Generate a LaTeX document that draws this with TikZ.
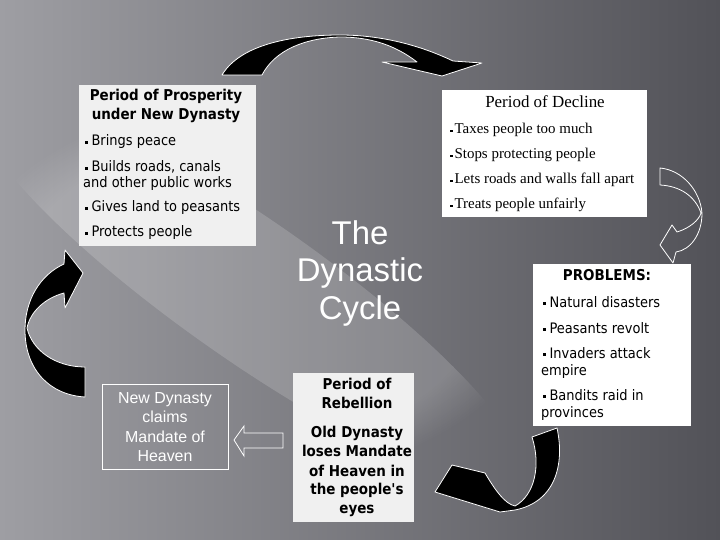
\documentclass[tikz,border=0pt]{standalone}
\usepackage{fontspec}
\setmainfont{Liberation Serif}
\newfontfamily\tahoma{DejaVu Sans Condensed}
\newfontfamily\arial{Liberation Sans}
\usetikzlibrary{fadings}

\definecolor{bgleft}{RGB}{158,158,163}
\definecolor{bgright}{RGB}{82,82,88}
\definecolor{panelgray}{RGB}{240,240,240}

\newcommand{\sqb}{\rule[0.28ex]{2.4pt}{2.4pt}\hspace{4pt}}
\newcommand{\tsqb}{\rule[0.3ex]{2.4pt}{2.4pt}\hspace{2pt}}

\tikzset{
    panel/.style = {fill = white, inner sep = 0, anchor = north west},
    tah/.style = {font = \tahoma\fontsize{14.5}{17}\selectfont, inner sep = 0},
    tahbold/.style = {font = \tahoma\bfseries\fontsize{15}{17}\selectfont, inner sep = 0},
    tms/.style = {font = \fontsize{15}{17}\selectfont, inner sep = 0},
    bigarrow/.style = {fill = black, draw = white, line width = .8pt, line join = round}
}

\begin{document}
\begin{tikzpicture}[
        x = 1bp,
        y = -1bp
    ]
        \useasboundingbox (0,0) rectangle (720,540);
        % background
        \shade[left color = bgleft, right color = bgright] (0,0) rectangle (720,540);
        \fill[white, opacity = .16, path fading = circle with fuzzy edge 20 percent] (250,290) ellipse [x radius = 330, y radius = 70, rotate = -35];

        % curved arrows
        \draw[bigarrow] (222,75) .. controls (240,45) and (290,35) .. (340,35)
            .. controls (390,35) and (430,50) .. (453,61) -- (482,63) -- (442,76) -- (382,62) -- (417,62)
            .. controls (395,45) and (370,37) .. (340,37)
            .. controls (305,38) and (275,50) .. (262,75) -- cycle;
        \draw[white, line width = .8pt, line join = round] (660,168) .. controls (682,170) and (700,190) .. (702,213)
            .. controls (702,235) and (690,250) .. (676,252) -- (673,263) -- (660,245) -- (672,225) -- (677,232)
            .. controls (690,228) and (699,220) .. (701,213)
            .. controls (695,196) and (680,186) .. (660,185) -- cycle;
        \draw[bigarrow] (532,437) -- (557,428) .. controls (565,465) and (555,502) .. (515,510)
            -- (500,512) -- (435,492) -- (452,465) -- (485,473)
            .. controls (495,490) and (505,504) .. (515,506)
            .. controls (535,495) and (541,465) .. (532,437) -- cycle;
        \draw[bigarrow] (85,367) -- (85,397) .. controls (50,395) and (25,370) .. (25,330)
            .. controls (25,300) and (40,275) .. (64,264) -- (65,250) -- (83,273) -- (65,308) -- (64,293)
            .. controls (45,298) and (30,312) .. (27,328)
            .. controls (32,350) and (55,367) .. (85,367) -- cycle;

        % prosperity
        \node[panel, fill = panelgray, minimum width = 177bp, minimum height = 161bp] (prosper) at (79,85) {};
        \node[tahbold, anchor = base] (prosperA) at (166,101) {Period of Prosperity};
        \node[tahbold, anchor = base] (prosperB) at (166,120) {under New Dynasty};
        \node[tah, anchor = base west] (peace) at (85,146) {\sqb Brings peace};
        \node[tah, anchor = base west] (roadsA) at (85,172) {\sqb Builds roads, canals};
        \node[tah, anchor = base west] (roadsB) at (83,188) {and other public works};
        \node[tah, anchor = base west] (land) at (85,212) {\sqb Gives land to peasants};
        \node[tah, anchor = base west] (protect) at (85,237) {\sqb Protects people};

        % decline
        \node[panel, minimum width = 205bp, minimum height = 127bp] (decline) at (442,90) {};
        \node[tms, font = \fontsize{17}{19}\selectfont, anchor = base] (declineT) at (545,108) {Period of Decline};
        \node[tms, anchor = base west] (taxes) at (450,134) {\tsqb Taxes people too much};
        \node[tms, anchor = base west] (stops) at (450,159) {\tsqb Stops protecting people};
        \node[tms, anchor = base west] (walls) at (450,184) {\tsqb Lets roads and walls fall apart};
        \node[tms, anchor = base west] (unfair) at (450,209) {\tsqb Treats people unfairly};

        % problems
        \node[panel, minimum width = 158bp, minimum height = 162bp] (problems) at (533,264) {};
        \node[tahbold, anchor = base] (problemsT) at (607,281) {PROBLEMS:};
        \node[tah, anchor = base west] (natural) at (543,307) {\sqb Natural disasters};
        \node[tah, anchor = base west] (revolt) at (543,333) {\sqb Peasants revolt};
        \node[tah, anchor = base west] (invadeA) at (543,358) {\sqb Invaders attack};
        \node[tah, anchor = base west] (invadeB) at (541,375) {empire};
        \node[tah, anchor = base west] (banditA) at (543,400) {\sqb Bandits raid in};
        \node[tah, anchor = base west] (banditB) at (541,417) {provinces};

        % rebellion
        \node[panel, fill = panelgray, minimum width = 121bp, minimum height = 149bp] (rebel) at (293,373) {};
        \node[tahbold, anchor = base] (rebelA) at (357,389) {Period of};
        \node[tahbold, anchor = base] (rebelB) at (357,408) {Rebellion};
        \node[tahbold, anchor = base] (loseA) at (357,437) {Old Dynasty};
        \node[tahbold, anchor = base] (loseB) at (357,456) {loses Mandate};
        \node[tahbold, anchor = base] (loseC) at (357,476) {of Heaven in};
        \node[tahbold, anchor = base] (loseD) at (357,494) {the people's};
        \node[tahbold, anchor = base] (loseE) at (357,513) {eyes};

        % new dynasty
        \node[panel, fill = none, draw = white, line width = .8pt, minimum width = 126bp, minimum height = 85bp] (newdyn) at (102,384) {};
        \node[white, font = \arial\fontsize{16}{18}\selectfont, inner sep = 0, anchor = base] (newA) at (165,403) {New Dynasty};
        \node[white, font = \arial\fontsize{16}{18}\selectfont, inner sep = 0, anchor = base] (newB) at (165,422) {claims};
        \node[white, font = \arial\fontsize{16}{18}\selectfont, inner sep = 0, anchor = base] (newC) at (165,442) {Mandate of};
        \node[white, font = \arial\fontsize{16}{18}\selectfont, inner sep = 0, anchor = base] (newD) at (165,461) {Heaven};

        \draw[white, line width = .8pt, line join = miter] (234,440) -- (244,426) -- (244,433) -- (283,433)
            -- (283,448) -- (244,448) -- (244,456) -- cycle;

        % title
        \node[white, font = \arial\fontsize{33}{37}\selectfont, inner sep = 0, anchor = base] (titleA) at (360,245) {The};
        \node[white, font = \arial\fontsize{33}{37}\selectfont, inner sep = 0, anchor = base] (titleB) at (360,282) {Dynastic};
        \node[white, font = \arial\fontsize{33}{37}\selectfont, inner sep = 0, anchor = base] (titleC) at (360,319) {Cycle};
    \end{tikzpicture}
\end{document}
